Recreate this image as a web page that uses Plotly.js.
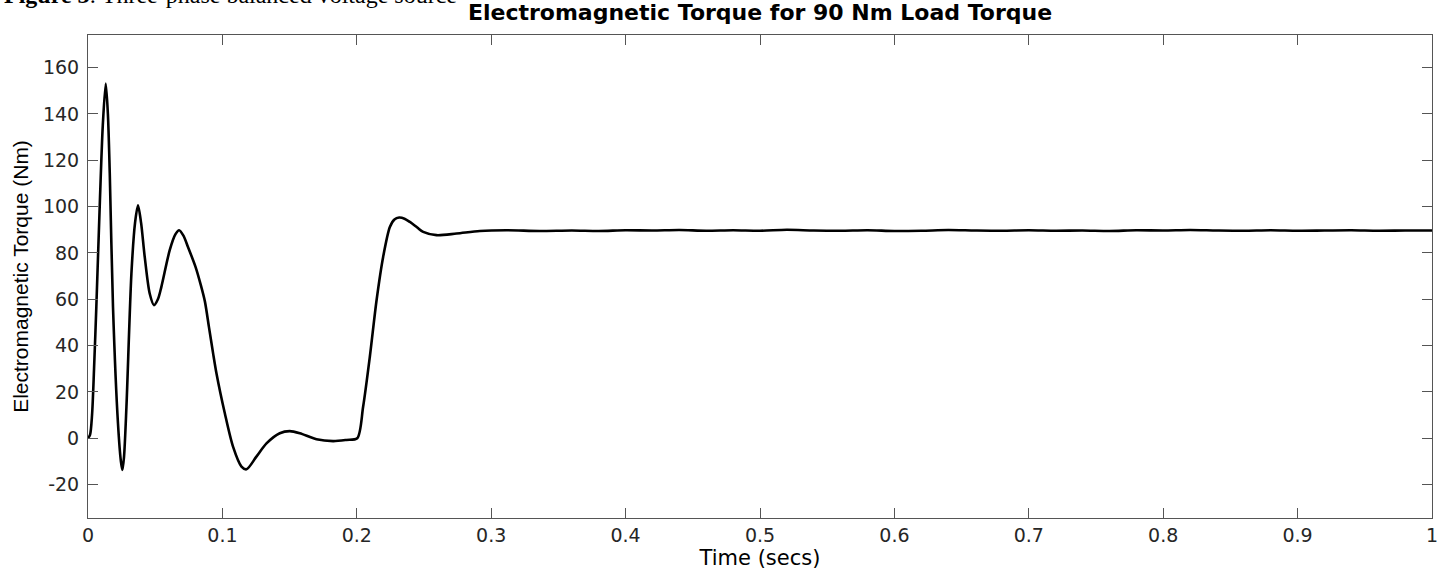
<!DOCTYPE html>
<html>
<head>
<meta charset="utf-8">
<script src="https://cdn.plot.ly/plotly-3.0.1.min.js"></script>
<style>html,body{margin:0;padding:0;background:#fff;}#chart{width:1444px;height:573px;}</style>
</head>
<body>
<div id="chart"></div>
<script>
// Time (s)
const timeSecs = [0, 0.0015, 0.003, 0.0045, 0.0062, 0.0087, 0.011, 0.0132, 0.0148, 0.0162, 0.0186, 0.0223, 0.0245, 0.0256, 0.0268, 0.0286, 0.0323, 0.0350, 0.0372, 0.0395, 0.0422, 0.0459, 0.0491, 0.0520, 0.0546, 0.0608, 0.0650, 0.0678, 0.0710, 0.0744, 0.0800, 0.0840, 0.0870, 0.0900, 0.0930, 0.0956, 0.1018, 0.1079, 0.1142, 0.1179, 0.1253, 0.1328, 0.1427, 0.1501, 0.1576, 0.1700, 0.1824, 0.1923, 0.2003, 0.2047, 0.2097, 0.2147, 0.2196, 0.2246, 0.2280, 0.2315, 0.2355, 0.2395, 0.2450, 0.2494, 0.2593, 0.2742, 0.2916, 0.3114, 0.336, 0.36, 0.38, 0.40, 0.42, 0.44, 0.46, 0.48, 0.50, 0.52, 0.54, 0.56, 0.58, 0.60, 0.62, 0.64, 0.66, 0.68, 0.70, 0.72, 0.74, 0.76, 0.78, 0.80, 0.82, 0.84, 0.86, 0.88, 0.90, 0.92, 0.94, 0.96, 0.98, 1.0];
// Electromagnetic torque (Nm)
const torqueNm = [0, 1.5, 10, 30, 56.7, 99.9, 135, 153.1, 140, 114.3, 56.7, 6.5, -10, -13.7, -8, 13.6, 71.1, 93, 100.6, 93, 78.3, 62.5, 57.5, 60, 65.4, 81.2, 88, 89.8, 87.5, 82.6, 74, 66, 59, 48, 37, 28, 10.8, -3.6, -12.2, -13.4, -7.9, -2.2, 2.2, 3.1, 2.2, -0.4, -1.2, -0.7, 0, 13.6, 35.2, 59.6, 78.3, 91.2, 94.5, 95.3, 94.8, 93.4, 91, 89.1, 87.7, 88.4, 89.5, 89.8, 89.5, 89.7, 89.5, 89.8, 89.7, 89.9, 89.6, 89.8, 89.6, 90.0, 89.7, 89.6, 89.8, 89.5, 89.6, 89.9, 89.7, 89.6, 89.8, 89.6, 89.7, 89.5, 89.8, 89.7, 89.9, 89.7, 89.6, 89.8, 89.6, 89.7, 89.8, 89.6, 89.7, 89.7];

const xTickVals = [0, 0.1, 0.2, 0.3, 0.4, 0.5, 0.6, 0.7, 0.8, 0.9, 1];
const xTickText = ["0", "0.1", "0.2", "0.3", "0.4", "0.5", "0.6", "0.7", "0.8", "0.9", "1"];
const yTickVals = [-20, 0, 20, 40, 60, 80, 100, 120, 140, 160];
const yTickText = ["-20", "0", "20", "40", "60", "80", "100", "120", "140", "160"];

const chartTitle = "Electromagnetic Torque for 90 Nm Load Torque";
const xLabel = "Time (secs)";
const yLabel = "Electromagnetic Torque (Nm)";
const figCaption = "<b>Figure 3</b>: Three-phase balanced voltage source";

const axisColor = "#555555";
const textColor = "#262626";
const wide = "DejaVu Sans, Verdana, sans-serif";
const sans = "Liberation Sans, Arial, sans-serif";

const trace = {
  x: timeSecs, y: torqueNm, type: "scatter", mode: "lines",
  line: {color: "#000000", width: 2.6, shape: "spline", smoothing: 0.8},
  hoverinfo: "skip"
};

const layout = {
  width: 1444, height: 573,
  margin: {l: 88, r: 12, t: 35, b: 55, pad: 0},
  paper_bgcolor: "#ffffff", plot_bgcolor: "#ffffff",
  showlegend: false,
  title: {text: "<b>" + chartTitle + "</b>", font: {family: wide, size: 22, color: "#000000"},
          x: 0.5, xref: "paper", xanchor: "center", y: 1 - 12/573, yref: "container", yanchor: "middle"},
  xaxis: {
    range: [0, 1], tickmode: "array", tickvals: xTickVals, ticktext: xTickText,
    ticks: "inside", ticklen: 10, tickwidth: 1, tickcolor: axisColor,
    showline: true, linecolor: axisColor, linewidth: 1, mirror: "ticks",
    showgrid: false, zeroline: false,
    tickfont: {family: wide, size: 19, color: textColor},
    title: {text: xLabel, font: {family: wide, size: 21, color: "#000000"}, standoff: 2}
  },
  yaxis: {
    range: [-34.4, 174.1], tickmode: "array", tickvals: yTickVals, ticktext: yTickText,
    ticks: "inside", ticklen: 10, tickwidth: 1, tickcolor: axisColor,
    showline: true, linecolor: axisColor, linewidth: 1, mirror: "ticks",
    showgrid: false, zeroline: false, ticklabelstandoff: 4,
    tickfont: {family: wide, size: 19, color: textColor},
    title: {text: yLabel, font: {family: sans, size: 21, color: "#000000"}, standoff: 8}
  },
  annotations: [{
    text: figCaption, xref: "paper", yref: "paper", x: -0.064, y: 1.0527,
    xanchor: "left", yanchor: "bottom", showarrow: false,
    font: {family: "Liberation Serif, Times New Roman, serif", size: 24, color: "#000000"}
  }]
};

Plotly.newPlot("chart", [trace], layout, {displayModeBar: false, staticPlot: true});
</script>
</body>
</html>
